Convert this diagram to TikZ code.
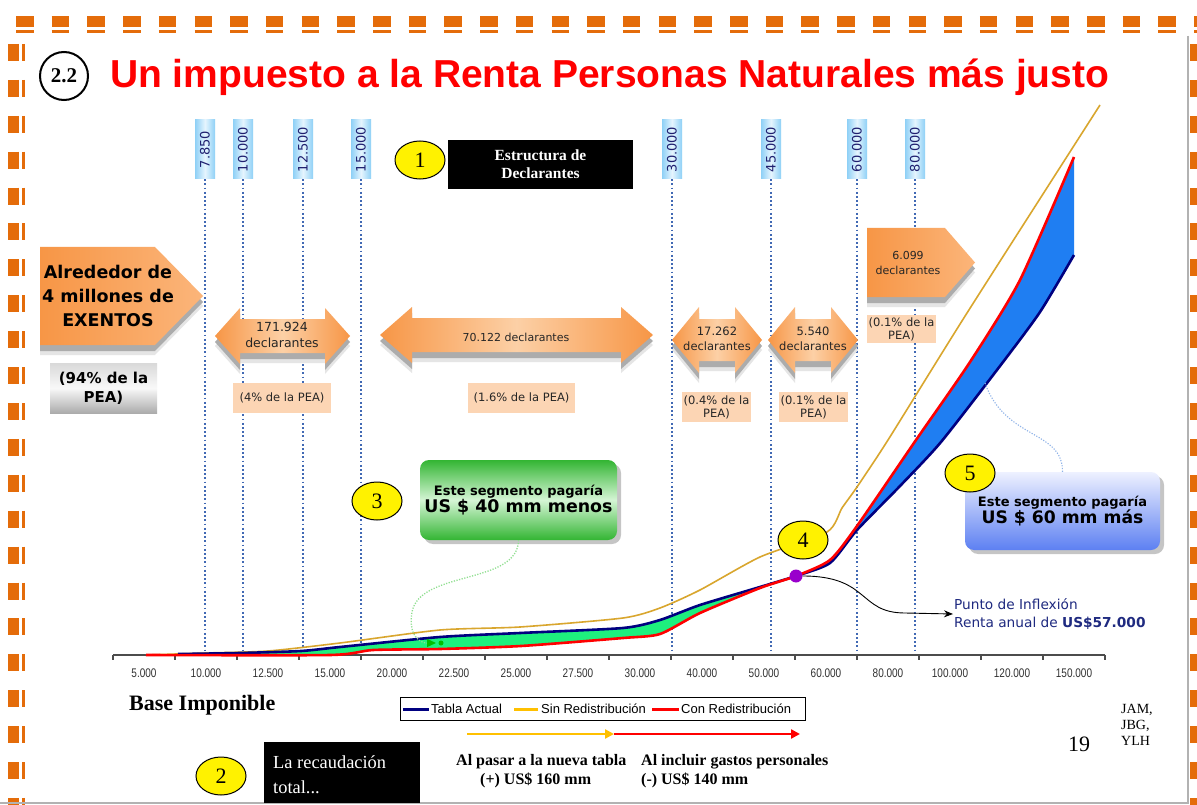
\documentclass[tikz,border=0pt]{standalone}
\usepackage{fontspec}
\usepackage{graphicx}
\setmainfont{Liberation Serif}
\newfontfamily\arialf{Liberation Sans}
\newfontfamily\tahf{DejaVu Sans}
\usetikzlibrary{arrows.meta,shapes.geometric,shadows}
\newcommand\fsz[2]{\fontsize{#1}{#2}\selectfont}
\definecolor{orB}{HTML}{E46C0A}
\definecolor{titleR}{HTML}{FF0000}
\definecolor{navyT}{HTML}{1F2070}
\definecolor{tbA}{HTML}{8ED0F6}
\definecolor{tbB}{HTML}{E6F5FE}
\definecolor{dotC}{HTML}{4169B4}
\definecolor{oD}{HTML}{F79646}
\definecolor{oL}{HTML}{FCD0A6}
\definecolor{oP}{HTML}{FBB57A}
\definecolor{peaC}{HTML}{FCD5B4}
\definecolor{curY}{HTML}{D9A62E}
\definecolor{curB}{HTML}{000080}
\definecolor{curR}{HTML}{FF0000}
\definecolor{fillG}{HTML}{1EF07E}
\definecolor{fillB}{HTML}{1F7EF2}
\definecolor{gA}{HTML}{33B533}
\definecolor{gB}{HTML}{D5F5D5}
\definecolor{bA}{HTML}{EEF1FF}
\definecolor{bB}{HTML}{5D80F2}
\definecolor{purp}{HTML}{9900CC}
\definecolor{legY}{HTML}{FFC000}
\definecolor{inflC}{HTML}{1F2A80}
\definecolor{gDot}{HTML}{8FDF8F}
\definecolor{bDot}{HTML}{8FB3E8}
% double arrow: x1, x2, cy, head length, head half height, body half height
\newcommand\dblarrow[6]{%
 \fill[gray!20, shift={(0,10)}] (#1,#3) -- (#1+#4,#3-#5) -- (#1+#4,#3-#6) -- (#2-#4,#3-#6) -- (#2-#4,#3-#5) -- (#2,#3) -- (#2-#4,#3+#5) -- (#2-#4,#3+#6) -- (#1+#4,#3+#6) -- (#1+#4,#3+#5) -- cycle;
 \fill[gray!65, shift={(0,6)}] (#1,#3) -- (#1+#4,#3-#5) -- (#1+#4,#3-#6) -- (#2-#4,#3-#6) -- (#2-#4,#3-#5) -- (#2,#3) -- (#2-#4,#3+#5) -- (#2-#4,#3+#6) -- (#1+#4,#3+#6) -- (#1+#4,#3+#5) -- cycle;
 \shade[left color=oD, right color=oD, middle color=oL] (#1,#3) -- (#1+#4,#3-#5) -- (#1+#4,#3-#6) -- (#2-#4,#3-#6) -- (#2-#4,#3-#5) -- (#2,#3) -- (#2-#4,#3+#5) -- (#2-#4,#3+#6) -- (#1+#4,#3+#6) -- (#1+#4,#3+#5) -- cycle;}
% pentagon arrow: x1, xnotch, xtip, ytop, ybottom
\newcommand\pentarrow[5]{%
 \fill[gray!20, shift={(0,10)}] (#1,#4) -- (#2,#4) -- (#3,{(#4+#5)/2}) -- (#2,#5) -- (#1,#5) -- cycle;
 \fill[gray!65, shift={(0,6)}] (#1,#4) -- (#2,#4) -- (#3,{(#4+#5)/2}) -- (#2,#5) -- (#1,#5) -- cycle;
 \shade[left color=oD, right color=oP] (#1,#4) -- (#2,#4) -- (#3,{(#4+#5)/2}) -- (#2,#5) -- (#1,#5) -- cycle;}
\begin{document}
\begin{tikzpicture}[x=1pt,y=-1pt,
  tickbox/.style={minimum width=20pt, minimum height=59pt, inner sep=0pt, left color=tbA, right color=tbA, middle color=tbB, font=\tahf\fsz{13}{14}, text=navyT},
  dotline/.style={draw=dotC, line width=1.8pt, dash pattern=on 1.8pt off 2.4pt},
  numell/.style={ellipse, draw=black, line width=1pt, fill=yellow, minimum width=50pt, minimum height=38pt, inner sep=0pt, font=\fsz{22}{24}},
  blackbox/.style={fill=black, text=white, inner sep=0pt},
  peabox/.style={fill=peaC, font=\tahf\fsz{11.5}{13}, text=black!85, align=center, inner sep=0pt},
  arrtext/.style={font=\tahf\fsz{11.5}{15}, align=center, text=black!85, inner sep=0pt},
  axlab/.style={font=\arialf\fsz{12.5}{14}, text=black!80, inner sep=0pt},
  legtext/.style={font=\arialf\fsz{13}{14}, anchor=west, inner sep=0pt},
  serifb/.style={font=\bfseries\fsz{16}{18}, anchor=west, inner sep=0pt}
]
\useasboundingbox (0,0) rectangle (1197,805);
\fill[white] (0,0) rectangle (1197,805);
% ---------- frame ----------
\draw[orB, line width=11pt, dash pattern=on 17.5pt off 18.2pt] (16,21.5) -- (1197,21.5);
\draw[orB, line width=3pt, dash pattern=on 17.5pt off 18.2pt] (16,32) -- (1197,32);
\draw[orB, line width=11pt, dash pattern=on 17pt off 18.9pt] (13.5,44) -- (13.5,805);
\draw[orB, line width=3pt, dash pattern=on 17pt off 18.9pt] (23.5,44) -- (23.5,805);
\draw[gray!60, line width=1.2pt] (1188,36) -- (1188,803) -- (0,803);
\draw[orB, line width=8pt, dash pattern=on 17pt off 18.9pt] (1194,44) -- (1194,805);
% ---------- title ----------
\node[circle, draw=black, line width=2pt, fill=white, minimum size=48pt, inner sep=0pt, font=\bfseries\fsz{21}{22}] (sec) at (64,76) {2.2};
\node[anchor=base west, inner sep=0pt, font=\arialf\bfseries\fsz{39}{44}, text=titleR] (title) at (110,88) {Un impuesto a la Renta Personas Naturales más justo};
% ---------- threshold labels and dotted lines ----------
\coordinate (axisY) at (0,655);
\foreach \xx/\lab/\nm in {205/7.850/t1, 243/10.000/t2, 303/12.500/t3, 361/15.000/t4, 672/30.000/t5, 771/45.000/t6, 857/60.000/t7, 915/80.000/t8} {
  \node[tickbox] (\nm) at (\xx,149.5) {\rotatebox{90}{\lab}};
  \draw[dotline] (\nm.south) -- (\nm.south |- axisY);
}
% ---------- axis ----------
\draw[gray!60!black, line width=1.5pt] (113,655) -- (1105,655);
\foreach \i in {0,...,16} { \draw[gray!60!black, line width=1.2pt] (113+62*\i,655) -- (113+62*\i,660); }
\foreach \lab [count=\i from 0] in {5.000,10.000,12.500,15.000,20.000,22.500,25.000,27.500,30.000,40.000,50.000,60.000,80.000,100.000,120.000,150.000}
  { \node[axlab] (ax\i) at (144+62*\i,673) {\scalebox{0.8}[1]{\lab}}; }
% ---------- fills between curves ----------
\fill[fillG] plot[smooth,tension=0.4] coordinates {(178,654) (240,653) (301,651) (340,647) (440,637) (520,633) (623,628) (660,620) (700,605) (760,587) (796,576)} -- plot[smooth,tension=0.4] coordinates {(796,576) (760,588) (700,613) (660,634) (623,638) (521,646) (440,649) (373,650) (330,655) (178,655)} -- cycle;
\fill[fillB] plot[smooth,tension=0.4] coordinates {(796,576) (830,560) (857,526) (916,440) (970,362) (1020,280) (1074,157)} -- plot[smooth,tension=0.4] coordinates {(1074,255) (1040,312) (1000,366) (941,442) (900,486) (857,530) (830,563) (796,576)} -- cycle;
% ---------- curves ----------
\draw[curY, line width=1.6pt] plot[smooth,tension=0.4] coordinates {(146,655) (206,653) (268,651) (340,643) (440,630) (520,627) (623,618) (660,608) (700,590) (760,557) (827,532) (842,508) (857,487) (888,440) (967,313) (1100,105)};
\draw[curB, line width=2.6pt] plot[smooth,tension=0.4] coordinates {(178,654) (240,653) (301,651) (340,647) (440,637) (520,633) (623,628) (660,620) (700,605) (760,587) (796,576) (830,563) (857,530) (900,486) (941,442) (1000,366) (1040,312) (1074,255)};
\draw[curR, line width=2.6pt] plot[smooth,tension=0.4] coordinates {(146,655) (330,655) (373,650) (440,649) (521,646) (623,638) (660,634) (700,613) (760,588) (796,576) (830,560) (857,526) (916,440) (970,362) (1020,280) (1074,157)};
% ---------- header 1 ----------
\node[numell] (n1) at (420,160) {1};
\node[blackbox, minimum width=185pt, minimum height=49pt, font=\bfseries\fsz{15.5}{18}, align=center] (hdr1) at (540.5,164.5) {Estructura de\\Declarantes};
% ---------- exentos ----------
\pentarrow{40}{155}{203}{247}{345}
\node[font=\tahf\bfseries\fsz{17.5}{24}, align=center, inner sep=0pt] (exen) at (108,296) {Alrededor de\\4 millones de\\EXENTOS};
\node[minimum width=107pt, minimum height=50pt, top color=gray!30, bottom color=gray!65, middle color=gray!5, font=\tahf\bfseries\fsz{15}{19}, align=center, inner sep=0pt] (pea94) at (103.5,388) {(94\% de la\\PEA)};
% ---------- declarant arrows ----------
\dblarrow{215}{350}{336}{25}{28}{17}
\node[arrtext, font=\tahf\fsz{12.5}{16}] (d1) at (282,335) {171.924\\declarantes};
\dblarrow{380}{653}{335}{32}{28}{17}
\node[arrtext, font=\tahf\fsz{11}{13}] (d2) at (516,337) {70.122 declarantes};
\dblarrow{672}{762}{340}{27}{33}{21}
\node[arrtext] (d3) at (717,339) {17.262\\declarantes};
\dblarrow{768}{858}{340}{27}{33}{21}
\node[arrtext] (d4) at (813,339) {5.540\\declarantes};
\pentarrow{867}{945}{975}{228}{297}
\node[arrtext, font=\tahf\fsz{11}{15}] (d5) at (908,263) {6.099\\declarantes};
% ---------- PEA boxes ----------
\node[peabox, minimum width=98pt, minimum height=30pt] (p1) at (282,398) {(4\% de la PEA)};
\node[peabox, minimum width=107pt, minimum height=30pt] (p2) at (521.5,398) {(1.6\% de la PEA)};
\node[peabox, minimum width=69pt, minimum height=30pt] (p3) at (716.5,407) {(0.4\% de la\\PEA)};
\node[peabox, minimum width=69pt, minimum height=30pt] (p4) at (813.5,407) {(0.1\% de la\\PEA)};
\node[peabox, minimum width=69pt, minimum height=28pt] (p5) at (901.5,329) {(0.1\% de la\\PEA)};
% ---------- callout 3 ----------
\node[rounded corners=9pt, minimum width=197pt, minimum height=80pt, top color=gA, bottom color=gA, middle color=gB, drop shadow={shadow xshift=4pt, shadow yshift=-4pt, opacity=0.45}, font=\tahf\bfseries\fsz{13}{17}, align=center, inner sep=0pt] (gbox) at (518.5,500) {Este segmento pagaría\\{\fsz{17.4}{21}US \$ 40 mm menos}};
\node[numell] (n3) at (377,501) {3};
\coordinate (c3) at (436,643);
\draw[gDot, line width=1.3pt, dash pattern=on 1.2pt off 1.5pt, -{Triangle[length=9pt,width=8pt,color=green!75!black]}] (gbox.south) .. controls (518,585) and (420,570) .. (412,612) .. controls (408,636) and (420,643) .. (c3);
\node[circle, fill=green!75!black, minimum size=5pt, inner sep=0pt] (gdot) at (441,643) {};
% ---------- callout 5 ----------
\node[rounded corners=9pt, minimum width=195pt, minimum height=78pt, top color=bA, bottom color=bB, drop shadow={shadow xshift=4pt, shadow yshift=-4pt, opacity=0.45}, font=\tahf\bfseries\fsz{13}{17}, align=center, inner sep=0pt] (bbox) at (1062.5,511) {\rule{0pt}{10pt}Este segmento pagaría\\{\fsz{17.2}{21}US \$ 60 mm más}};
\coordinate (c5) at (985,383);
\draw[bDot, line width=1.1pt, dash pattern=on 1.2pt off 1.5pt] (bbox.north) .. controls (1063,430) and (1005,440) .. (c5);
\node[numell] (n5) at (970,473) {5};
% ---------- inflection ----------
\node[numell] (n4) at (803,540) {4};
\node[circle, fill=purp, minimum size=13pt, inner sep=0pt] (pdot) at (796,576) {};
\node[anchor=west, font=\tahf\fsz{13.7}{18}, text=inflC, align=left, inner sep=1pt] (inflT) at (953,614) {Punto de Inflexión\\Renta anual de \textbf{US\$57.000}};
\draw[line width=0.9pt, -{Stealth[length=9pt,width=7pt]}] (pdot.east) .. controls (870,576) and (858,613) .. (905,613) -- (inflT.west);
% ---------- legend ----------
\node[serifb, font=\bfseries\fsz{22}{24}] (base) at (129,705) {Base Imponible};
\node[draw=black, line width=1pt, minimum width=405pt, minimum height=23pt, inner sep=0pt, fill=white] (leg) at (602.5,708.5) {};
\draw[curB, line width=3pt] (403,709) -- (429,709);
\node[legtext] (lg1) at (431,709) {Tabla Actual};
\draw[legY, line width=3pt] (514,709) -- (538,709);
\node[legtext] (lg2) at (541,709) {Sin Redistribución};
\draw[curR, line width=3pt] (652,709) -- (679,709);
\node[legtext] (lg3) at (681,709) {Con Redistribución};
% ---------- bottom ----------
\coordinate (ya) at (467,734);
\coordinate (ym) at (614,734);
\coordinate (re) at (800,734);
\draw[legY, line width=2.5pt, -{Triangle[length=9pt,width=9pt]}] (ya) -- (ym);
\draw[curR, line width=2.5pt, -{Triangle[length=9pt,width=9pt]}] (ym) -- (re);
\node[numell] (n2) at (221,776) {2};
\node[blackbox, minimum width=156pt, minimum height=61pt] (b2) at (342,772.5) {};
\node[anchor=west, text=white, font=\fsz{18.4}{25}, align=left, inner sep=0pt] (b2t) at (273,775) {La recaudación\\total...};
\node[serifb] (al1) at (456,762) {Al pasar a la nueva tabla};
\node[serifb] (al2) at (480,780) {(+) US\$ 160 mm};
\node[serifb] (al3) at (641,762) {Al incluir gastos personales};
\node[serifb] (al4) at (641,780) {(-) US\$ 140 mm};
\node[font=\fsz{22}{24}, inner sep=0pt] (pg) at (1079,744) {19};
\node[font=\fsz{14}{16}, align=left, anchor=north west, inner sep=0pt] (auth) at (1121,704) {JAM,\\JBG,\\YLH};
\end{tikzpicture}
\end{document}
